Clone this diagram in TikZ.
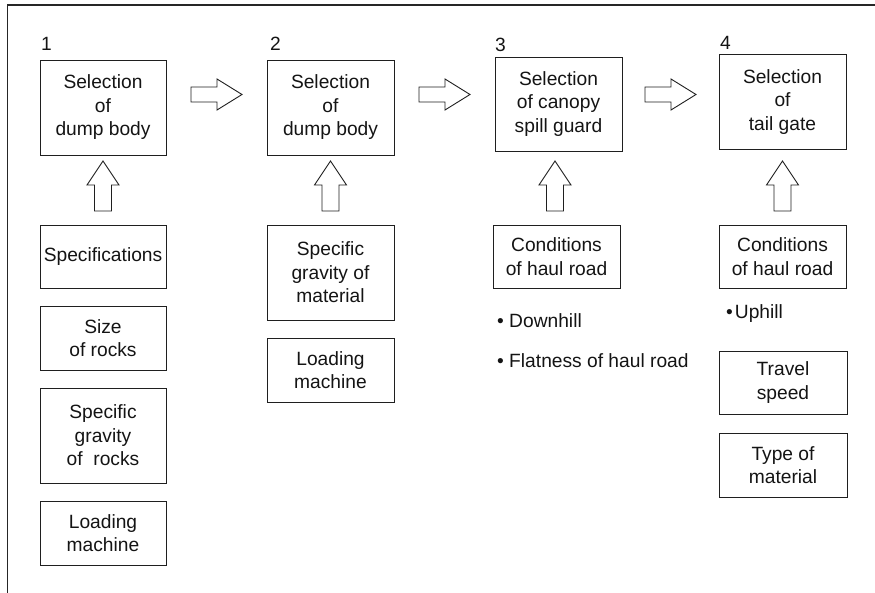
\documentclass[tikz,border=0pt]{standalone}
\usepackage{fontspec}
\setmainfont{Liberation Sans}
\usetikzlibrary{calc}
\begin{document}
\begin{tikzpicture}[x=1pt,y=-1pt,
  box/.style={draw=black!88, line width=0.9pt, align=center, inner sep=0pt,
    font=\fontsize{19.2}{23.5}\selectfont, text=black!92},
  lbl/.style={inner sep=0pt, anchor=base west, font=\fontsize{19.2}{23.5}\selectfont, text=black!92},
  arrowline/.style={draw=black!88, line width=0.9pt, fill=white, line join=miter},
  rarrow/.pic={\path[arrowline] (-25.5,-7.5) -- (0.5,-7.5) -- (0.5,-15.5) -- (25.5,0) -- (0.5,15.5) -- (0.5,7.5) -- (-25.5,7.5) -- cycle;},
  uarrow/.pic={\path[arrowline] (-8.5,25) -- (-8.5,-1) -- (-16,-1) -- (0,-25) -- (16,-1) -- (8.5,-1) -- (8.5,25) -- cycle;}
]
\useasboundingbox (0,0) rectangle (875,593);
% outer frame (top and left edges visible)
\draw[line width=1.2pt, black!85] (7.5,593) -- (7.5,5) -- (875,5);

% main selection boxes
\node[box, minimum width=126pt, minimum height=95pt] (b1) at (103,107.5) {Selection\\of\\dump body};
\node[box, minimum width=127pt, minimum height=95pt] (b2) at (330.5,107.5) {Selection\\of\\dump body};
\node[box, minimum width=127pt, minimum height=94pt] (b3) at (558.5,104) {Selection\\of canopy\\spill guard};
\node[box, minimum width=127pt, minimum height=95pt] (b4) at (782.5,102) {Selection\\of\\tail gate};

% step numbers
\node[lbl] (n1) at (41,51) {1};
\node[lbl] (n2) at (270,51) {2};
\node[lbl] (n3) at (495,52) {3};
\node[lbl] (n4) at (720,50) {4};

% factor boxes column 1
\node[box, minimum width=126pt, minimum height=63pt] (s1) at (103,256.5) {Specifications};
\node[box, minimum width=126pt, minimum height=64pt] (s2) at (103,338) {Size\\of rocks};
\node[box, minimum width=126pt, minimum height=95pt] (s3) at (103,435.5) {Specific\\gravity\\of~~rocks};
\node[box, minimum width=126pt, minimum height=64pt] (s4) at (103,533) {Loading\\machine};

% column 2
\node[box, minimum width=127pt, minimum height=95pt] (m1) at (330.5,272.5) {Specific\\gravity of\\material};
\node[box, minimum width=127pt, minimum height=64pt] (m2) at (330.5,370) {Loading\\machine};

% column 3
\node[box, minimum width=127pt, minimum height=63pt] (c3) at (556.5,256.5) {Conditions\\of haul road};
\node[lbl] (d1) at (497,327) {\textbullet\ Downhill};
\node[lbl] (d2) at (497,367) {\textbullet\ Flatness of haul road};

% column 4
\node[box, minimum width=127pt, minimum height=63pt] (c4) at (782.5,256.5) {Conditions\\of haul road};
\node[lbl] (u1) at (726,319) {\textbullet\kern2pt Uphill};
\node[box, minimum width=128pt, minimum height=63pt] (t1) at (783,382.5) {Travel\\speed};
\node[box, minimum width=128pt, minimum height=64pt] (t2) at (783,465) {Type of\\material};

% block arrows
\coordinate (row) at (0,94.5);
\coordinate (urow) at (0,186);
\coordinate (m12) at ($(b1.east)!0.5!(b2.west)$);
\coordinate (m23) at ($(b2.east)!0.5!(b3.west)$);
\coordinate (m34) at ($(b3.east)!0.5!(b4.west)$);
\coordinate (a3) at ($(c3.north)+(-1.5,0)$);
\pic at (m12 |- row) {rarrow};
\pic at (m23 |- row) {rarrow};
\pic at (m34 |- row) {rarrow};
\pic at (b1.south |- urow) {uarrow};
\pic at (b2.south |- urow) {uarrow};
\pic at (a3 |- urow) {uarrow};
\pic at (b4.south |- urow) {uarrow};
\end{tikzpicture}
\end{document}
